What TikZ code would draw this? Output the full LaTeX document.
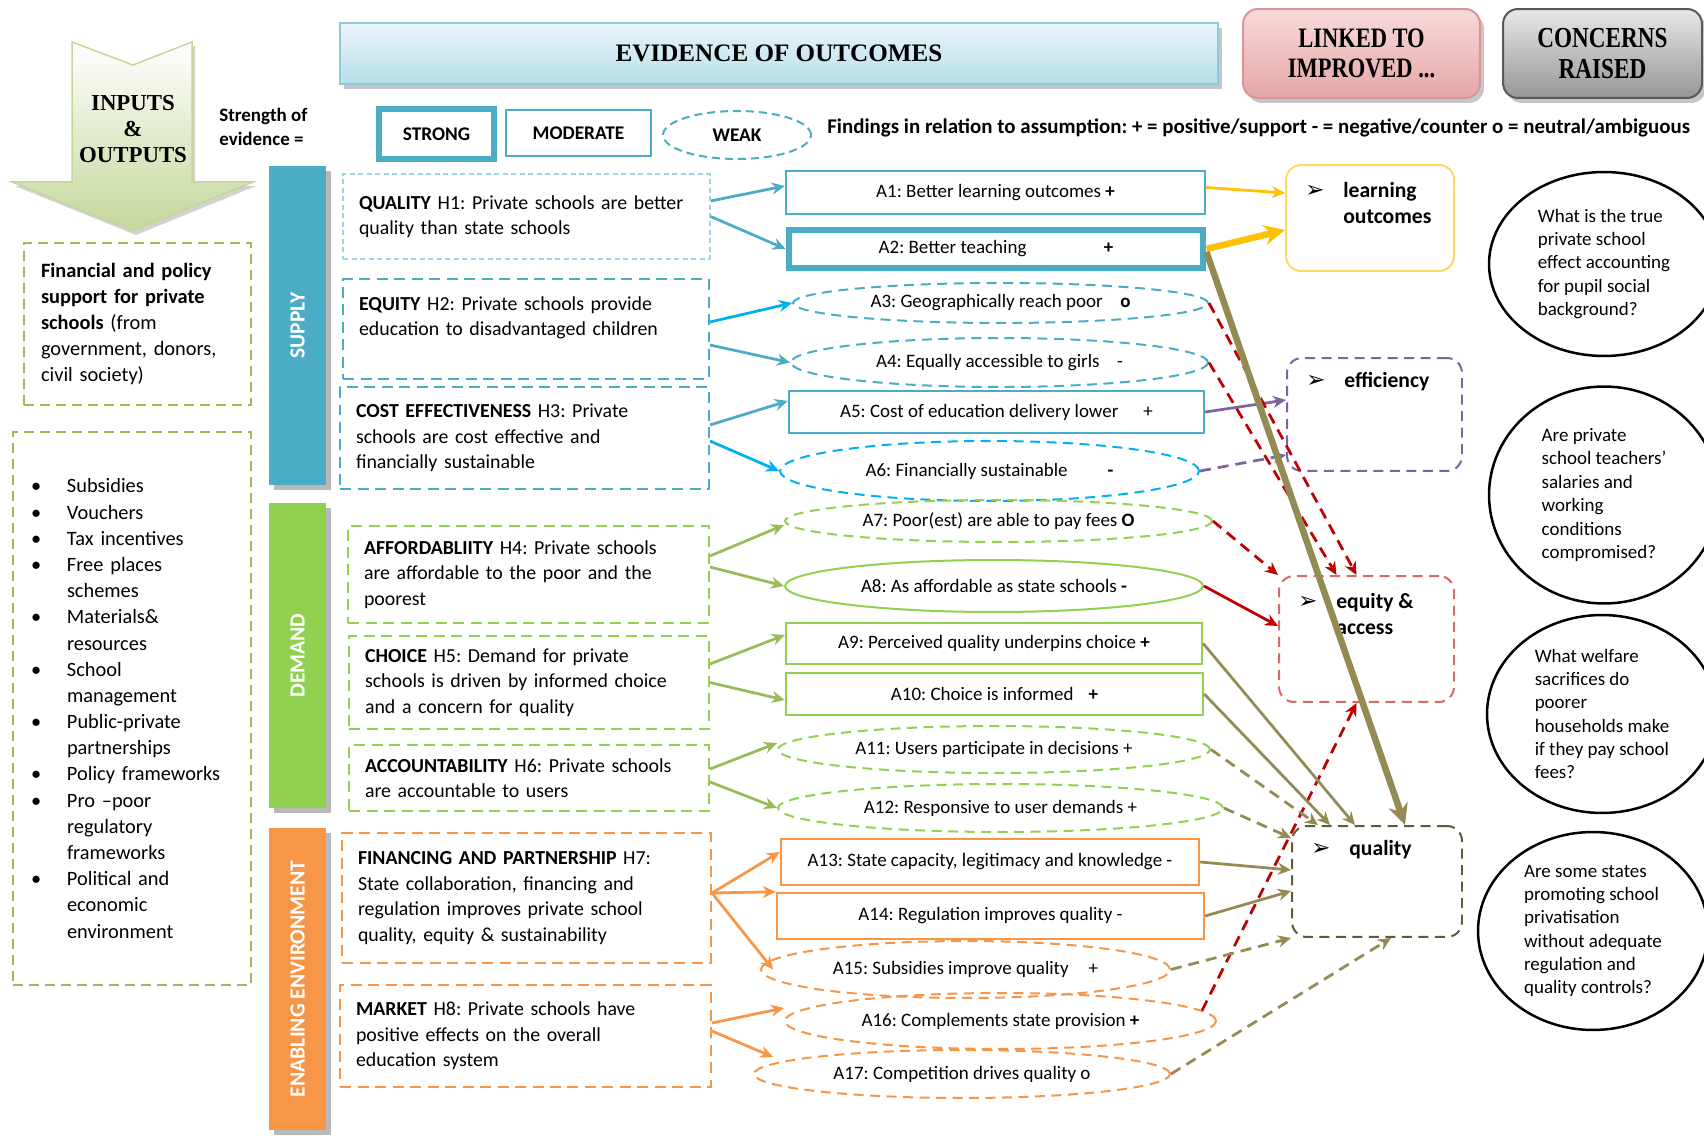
\documentclass[tikz,border=0pt]{standalone}
\usepackage{fontspec}
\usepackage{graphicx}
\setmainfont{Carlito}
\newfontfamily\headfont{Liberation Serif}
\newfontfamily\narrowfont{Liberation Serif}[FakeStretch=0.8]
\newfontfamily\dingfont{DejaVu Sans}
\usetikzlibrary{positioning, shapes.geometric, calc, arrows.meta, shadows}
\frenchspacing
\definecolor{supblue}{HTML}{4BACC6}
\definecolor{brblue}{HTML}{00B0F0}
\definecolor{lightblue}{HTML}{9DD3E2}
\definecolor{demgreen}{HTML}{92D050}
\definecolor{arrgreen}{HTML}{9BBB59}
\definecolor{envorange}{HTML}{F79646}
\definecolor{outyellow}{HTML}{FFC000}
\definecolor{boxyellow}{HTML}{FFD966}
\definecolor{effpurple}{HTML}{8064A2}
\definecolor{eqred}{HTML}{D46A6A}
\definecolor{arrred}{HTML}{C00000}
\definecolor{qolive}{HTML}{948A54}
\definecolor{qualdark}{HTML}{5C5C3D}
\newcommand{\bul}{{\dingfont\fontsize{13}{14}\selectfont ➢}}
\tikzstyle{headbox} = [rectangle, line width=0.04cm, drop shadow={shadow xshift=0.08cm, shadow yshift=-0.1cm, fill=gray!45, opacity=1}]
\tikzstyle{legend} = [line width=0.04cm, draw=supblue, font=\bfseries\fontsize{11}{13}\selectfont]
\tikzstyle{sidebar} = [rectangle, inner sep=0pt, minimum width=1.14cm, text=white, font=\bfseries\fontsize{12.3}{14}\selectfont, drop shadow={shadow xshift=0.1cm, shadow yshift=-0.1cm, fill=gray!55, opacity=1}]
\tikzstyle{inbox} = [rectangle, draw=arrgreen, line width=0.05cm, dash pattern=on 2mm off 1.2mm, align=left, font=\fontsize{11.6}{14.9}\selectfont]
\tikzstyle{hyp} = [rectangle, align=left, inner xsep=0.32cm, inner ysep=0pt, line width=0.04cm, dash pattern=on 2.2mm off 1.3mm, font=\fontsize{11.3}{14.5}\selectfont]
\tikzstyle{asmbox} = [rectangle, line width=0.05cm, inner sep=0pt, font=\fontsize{10.8}{12}\selectfont]
\tikzstyle{asmell} = [ellipse, line width=0.04cm, inner sep=0pt, dash pattern=on 2mm off 1.3mm, font=\fontsize{10.8}{12}\selectfont]
\tikzstyle{outbox} = [rectangle, rounded corners=0.3cm, line width=0.04cm]
\tikzstyle{outlbl} = [anchor=north west, align=left, inner sep=0pt, font=\bfseries\fontsize{12.3}{14.7}\selectfont]
\tikzstyle{concern} = [ellipse, draw=black, line width=0.05cm, align=left, inner sep=0pt, minimum width=4.6cm, font=\fontsize{10.8}{13.3}\selectfont]
\tikzstyle{arrow} = [-{Stealth[length=0.26cm, width=0.24cm]}, line width=0.055cm]
\tikzstyle{dasharrow} = [arrow, dash pattern=on 0.22cm off 0.14cm]
\tikzstyle{bigarrow} = [-{Stealth[length=0.42cm, width=0.4cm]}, line width=0.13cm]

\begin{document}
\begin{tikzpicture}[x=0.02cm, y=-0.02cm]
  \fill[white] (0,0) rectangle (1704,1138);
  \useasboundingbox (0,0) rectangle (1704,1138);
  \clip (0,0) rectangle (1704,1138);

  %标题
  \path [draw={rgb,255:red,196;green,215;blue,155}, line width=0.03cm, top color=white, bottom color={rgb,255:red,196;green,215;blue,155}, drop shadow={shadow xshift=0.06cm, shadow yshift=-0.08cm, fill=gray!35, opacity=1}]
    (72,42) -- (133,65) -- (192,42) -- (192,182) -- (253,182) -- (133,231) -- (12,182) -- (72,182) -- cycle;
  \node (inout) [align=center, font=\headfont\bfseries\fontsize{13}{14.6}\selectfont] at (133,129) {INPUTS\\\&\\OUTPUTS};
  \node (evid) [headbox, draw={rgb,255:red,143;green,202;blue,220}, top color={rgb,255:red,236;green,246;blue,250}, bottom color={rgb,255:red,183;green,222;blue,232}, minimum width=17.56cm, minimum height=1.22cm, font=\headfont\bfseries\fontsize{14.3}{16}\selectfont] at (779,53.5) {EVIDENCE OF OUTCOMES};
  \node (linked) [headbox, rounded corners=0.3cm, draw={rgb,255:red,217;green,150;blue,148}, top color={rgb,255:red,248;green,218;blue,218}, bottom color={rgb,255:red,229;green,166;blue,168}, minimum width=4.74cm, minimum height=1.78cm, align=center, font=\narrowfont\bfseries\fontsize{16}{17}\selectfont] at (1361.5,53.5) {LINKED TO\\IMPROVED ...};
  \node (concerns) [headbox, rounded corners=0.3cm, draw={rgb,255:red,89;green,89;blue,89}, top color={rgb,255:red,232;green,232;blue,232}, bottom color={rgb,255:red,150;green,150;blue,150}, minimum width=3.98cm, minimum height=1.78cm, align=center, font=\narrowfont\bfseries\fontsize{16.5}{17.5}\selectfont] at (1602.5,53.5) {CONCERNS\\RAISED};

  %图例
  \node (strength) [anchor=west, align=left, inner sep=0pt, font=\bfseries\fontsize{10.8}{13.5}\selectfont] at (219,127) {Strength of\\evidence =};
  \node (strong) [legend, line width=0.11cm, minimum width=2.3cm, minimum height=1cm] at (436.5,134) {STRONG};
  \node (moderate) [legend, minimum width=2.9cm, minimum height=0.92cm] at (578.5,133) {MODERATE};
  \node (weak) [legend, ellipse, dash pattern=on 1.6mm off 1mm, minimum width=2.96cm, minimum height=0.96cm] at (737,135) {WEAK};
  \node (findings) [anchor=west, inner sep=0pt, font=\bfseries\fontsize{11.9}{13}\selectfont] at (827,128) {Findings in relation to assumption: + = positive/support - = negative/counter o = neutral/ambiguous};

  %左栏
  \node (support) [inbox, inner xsep=0.34cm, text width=3.86cm, minimum height=3.24cm] at (137.5,324) {\textbf{Financial and policy}\\\textbf{support for private}\\\textbf{schools} (from\\government, donors,\\civil society)};
  \node (inputs) [inbox, inner xsep=0.36cm, text width=4.04cm, minimum height=11.06cm] at (132,708.5) {%
    \makebox[0.72cm][l]{\textbullet}Subsidies\\
    \makebox[0.72cm][l]{\textbullet}Vouchers\\
    \makebox[0.72cm][l]{\textbullet}Tax incentives\\
    \makebox[0.72cm][l]{\textbullet}Free places\\
    \makebox[0.72cm][l]{}schemes\\
    \makebox[0.72cm][l]{\textbullet}Materials\&\\
    \makebox[0.72cm][l]{}resources\\
    \makebox[0.72cm][l]{\textbullet}School\\
    \makebox[0.72cm][l]{}management\\
    \makebox[0.72cm][l]{\textbullet}Public-private\\
    \makebox[0.72cm][l]{}partnerships\\
    \makebox[0.72cm][l]{\textbullet}Policy frameworks\\
    \makebox[0.72cm][l]{\textbullet}Pro –poor\\
    \makebox[0.72cm][l]{}regulatory\\
    \makebox[0.72cm][l]{}frameworks\\
    \makebox[0.72cm][l]{\textbullet}Political and\\
    \makebox[0.72cm][l]{}economic\\
    \makebox[0.72cm][l]{}environment};

  %侧栏
  \node (supply) [sidebar, fill=supblue, minimum height=6.38cm] at (297.5,325.5) {\rotatebox{90}{SUPPLY}};
  \node (demand) [sidebar, fill=demgreen, minimum height=6.10cm] at (297.5,655.5) {\rotatebox{90}{DEMAND}};
  \node (enabling) [sidebar, fill=envorange, minimum height=6.04cm] at (297.5,979) {\rotatebox{90}{ENABLING ENVIRONMENT}};

  %假设
  \node (h1) [hyp, draw=lightblue, line width=0.03cm, dash pattern=on 1mm off 0.7mm, text width=6.70cm, minimum height=1.70cm] at (526.5,216.5) {\textbf{QUALITY} H1: Private schools are better\\quality than state schools};
  \node (h2) [hyp, draw=supblue, text width=6.68cm, minimum height=2.00cm] at (526,329) {\textbf{EQUITY} H2: Private schools provide\\education to disadvantaged children\\\mbox{}};
  \node (h3) [hyp, draw=supblue, text width=6.74cm, minimum height=2.04cm] at (524.5,438) {\textbf{COST EFFECTIVENESS} H3: Private\\schools are cost effective and\\financially sustainable};
  \node (h4) [hyp, draw=demgreen, text width=6.58cm, minimum height=1.94cm] at (528.5,574.5) {\textbf{AFFORDABLIITY} H4: Private schools\\are affordable to the poor and the\\poorest};
  \node (h5) [hyp, draw=demgreen, text width=6.56cm, minimum height=1.86cm] at (529,682.5) {\textbf{CHOICE} H5: Demand for private\\schools is driven by informed choice\\and a concern for quality};
  \node (h6) [hyp, draw=demgreen, text width=6.56cm, minimum height=1.32cm] at (529,778) {\textbf{ACCOUNTABILITY} H6: Private schools\\are accountable to users};
  \node (h7) [hyp, draw=envorange, text width=6.74cm, minimum height=2.60cm] at (526.5,898) {\textbf{FINANCING AND PARTNERSHIP} H7:\\State collaboration, financing and\\regulation improves private school\\quality, equity \& sustainability};
  \node (h8) [hyp, draw=envorange, text width=6.78cm, minimum height=2.04cm] at (525.5,1036) {\textbf{MARKET} H8: Private schools have\\positive effects on the overall\\education system};

  %假定
  \node (a1) [asmbox, draw=supblue, minimum width=8.38cm, minimum height=0.86cm] at (995.5,192.5) {A1: Better learning outcomes \textbf{+}};
  \node (a2) [asmbox, draw=supblue, line width=0.12cm, minimum width=8.30cm, minimum height=0.78cm] at (996,249) {A2: Better teaching\hspace{1.55cm}\textbf{+}};
  \node (a3) [asmell, draw=supblue, minimum width=8.30cm, minimum height=0.80cm] at (1000.5,303) {A3: Geographically reach poor\hspace{0.35cm}\textbf{o}};
  \node (a4) [asmell, draw=supblue, minimum width=8.34cm, minimum height=0.98cm] at (999.5,362.5) {A4: Equally accessible to girls\hspace{0.35cm}-};
  \node (a5) [asmbox, draw=supblue, minimum width=8.30cm, minimum height=0.84cm] at (996.5,412) {A5: Cost of education delivery lower\hspace{0.5cm}+};
  \node (a6) [asmell, draw=brblue, minimum width=8.38cm, minimum height=1.20cm] at (989.5,471) {A6: Financially sustainable\hspace{0.8cm}\textbf{-}};
  \node (a7) [asmell, draw=demgreen, minimum width=8.54cm, minimum height=0.84cm] at (998.5,521) {A7: Poor(est) are able to pay fees \textbf{O}};
  \node (a8) [asmell, draw=demgreen, solid, minimum width=8.36cm, minimum height=1.04cm] at (994,586) {A8: As affordable as state schools \textbf{-}};
  \node (a9) [asmbox, draw=demgreen, minimum width=8.32cm, minimum height=0.82cm] at (994,643.5) {A9: Perceived quality underpins choice \textbf{+}};
  \node (a10) [asmbox, draw=demgreen, minimum width=8.34cm, minimum height=0.84cm] at (994.5,694) {A10: Choice is informed\hspace{0.3cm}\textbf{+}};
  \node (a11) [asmell, draw=demgreen, minimum width=8.64cm, minimum height=0.94cm] at (994,749.5) {A11: Users participate in decisions +};
  \node (a12) [asmell, draw=demgreen, minimum width=8.90cm, minimum height=0.96cm] at (1000.5,808) {A12: Responsive to user demands +};
  \node (a13) [asmbox, draw=envorange, minimum width=8.36cm, minimum height=0.92cm] at (990,862) {A13: State capacity, legitimacy and knowledge -};
  \node (a14) [asmbox, draw=envorange, minimum width=8.54cm, minimum height=0.92cm] at (990.5,916) {A14: Regulation improves quality -};
  \node (a15) [asmell, draw=envorange, minimum width=8.18cm, minimum height=1.14cm] at (965.5,969.5) {A15: Subsidies improve quality\hspace{0.4cm}+};
  \node (a16) [asmell, draw=envorange, minimum width=8.62cm, minimum height=1.12cm] at (1000.5,1021) {A16: Complements state provision \textbf{+}};
  \node (a17) [asmell, draw=envorange, minimum width=8.32cm, minimum height=0.96cm] at (962,1074) {A17: Competition drives quality o};

  %结果
  \node (learn) [outbox, draw=boxyellow, minimum width=3.36cm, minimum height=2.12cm,
    label={[outlbl, xshift=0.4cm, yshift=-0.3cm]north west:\makebox[0.76cm][l]{\bul}\begin{tabular}[t]{@{}l@{}}learning\\outcomes\end{tabular}}] at (1370,218) {};
  \node (effic) [outbox, draw=effpurple, dash pattern=on 2mm off 1.3mm, minimum width=3.50cm, minimum height=2.26cm,
    label={[outlbl, xshift=0.4cm, yshift=-0.3cm]north west:\makebox[0.76cm][l]{\bul}efficiency}] at (1374.5,414.5) {};
  \node (equity) [outbox, draw=eqred, dash pattern=on 2mm off 1.3mm, minimum width=3.50cm, minimum height=2.52cm,
    label={[outlbl, xshift=0.4cm, yshift=-0.3cm]north west:\makebox[0.76cm][l]{\bul}\begin{tabular}[t]{@{}l@{}}equity \&\\access\end{tabular}}] at (1366.5,639) {};
  \node (quality) [outbox, draw=qualdark, dash pattern=on 2mm off 1.3mm, minimum width=3.40cm, minimum height=2.22cm,
    label={[outlbl, xshift=0.4cm, yshift=-0.3cm]north west:\makebox[0.76cm][l]{\bul}quality}] at (1377,881.5) {};

  %问题
  \node (c1) [concern, minimum height=3.68cm] at (1604,264) {What is the true\\private school\\effect accounting\\for pupil social\\background?};
  \node (c2) [concern, minimum height=4.34cm] at (1604,495) {Are private\\school teachers’\\salaries and\\working\\conditions\\compromised?};
  \node (c3) [concern, minimum height=3.96cm] at (1602,714) {What welfare\\sacrifices do\\poorer\\households make\\if they pay school\\fees?};
  \node (c4) [concern, minimum height=3.96cm] at (1593,931) {Are some states\\promoting school\\privatisation\\without adequate\\regulation and\\quality controls?};

  %连接假设与假定
  \draw [arrow, supblue] ([yshift=0.31cm]h1.east) -- ([yshift=0.13cm]a1.west);
  \draw [arrow, supblue] (h1.east) -- (a2.west);
  \draw [arrow, brblue] ([yshift=0.14cm]h2.east) -- (a3.west);
  \draw [arrow, supblue] ([yshift=-0.32cm]h2.east) -- (a4.west);
  \draw [arrow, supblue] ([yshift=0.26cm]h3.east) -- ([yshift=0.22cm]a5.west);
  \draw [arrow, brblue] ([yshift=-0.06cm]h3.east) -- (a6.west);
  \draw [arrow, arrgreen] ([yshift=0.37cm]h4.east) -- ([yshift=-0.08cm]a7.west);
  \draw [arrow, arrgreen] ([yshift=0.15cm]h4.east) -- (a8.west);
  \draw [arrow, arrgreen] ([yshift=0.37cm]h5.east) -- ([yshift=0.17cm]a9.west);
  \draw [arrow, arrgreen] (h5.east) -- ([yshift=-0.12cm]a10.west);
  \draw [arrow, arrgreen] ([yshift=0.18cm]h6.east) -- ([yshift=0.13cm]a11.west);
  \draw [arrow, arrgreen] ([yshift=-0.08cm]h6.east) -- (a12.west);
  \draw [arrow, envorange] ([yshift=0.1cm]h7.east) -- ([yshift=0.2cm]a13.west);
  \draw [arrow, envorange] ([yshift=0.1cm]h7.east) -- (a14.north west);
  \draw [arrow, envorange] ([yshift=0.1cm]h7.east) -- ([xshift=0.26cm]a15.west);
  \draw [arrow, envorange] ([yshift=0.26cm]h8.east) -- ([yshift=0.26cm]a16.west);
  \draw [arrow, envorange] ([yshift=0.1cm]h8.east) -- ([xshift=0.4cm, yshift=0.34cm]a17.west);

  %连接假定与结果
  \draw [arrow, outyellow] ([yshift=0.1cm]a1.east) -- ([yshift=0.5cm]learn.west);
  \draw [bigarrow, outyellow] (a2.east) -- ([yshift=-0.24cm]learn.west);
  \draw [arrow, effpurple] (a5.east) -- ([yshift=0.29cm]effic.west);
  \draw [dasharrow, effpurple] (a6.east) -- ([yshift=-0.81cm]effic.west);
  \draw [dasharrow, arrred] (a3.east) -- ([xshift=-0.2cm]equity.north);
  \draw [dasharrow, arrred] (a4.east) -- ([xshift=-0.6cm]equity.north);
  \draw [dasharrow, arrred] (a7.east) -- (equity.north west);
  \draw [arrow, arrred] (a8.east) -- ([yshift=0.26cm]equity.west);
  \draw [dasharrow, arrred] (a16.3) -- ([xshift=-0.2cm]equity.south);
  \draw [arrow, qolive] (a9.east) -- ([xshift=-0.44cm]quality.north);
  \draw [arrow, qolive] (a10.east) -- ([xshift=-0.94cm]quality.north);
  \draw [dasharrow, qolive] (a11.east) -- ([xshift=-1.18cm]quality.north);
  \draw [dasharrow, qolive] (a12.east) -- ([yshift=-0.26cm]quality.north west);
  \draw [arrow, qolive] (a13.east) -- ([yshift=0.23cm]quality.west);
  \draw [arrow, qolive] (a14.east) -- ([yshift=-0.19cm]quality.west);
  \draw [dasharrow, qolive] (a15.east) -- (quality.south west);
  \draw [dasharrow, qolive] (a17.east) -- ([xshift=0.28cm]quality.south);
  \draw [bigarrow, qolive] ([yshift=-0.06cm]a2.east) -- ([xshift=0.56cm]quality.north);
\end{tikzpicture}
\end{document}
